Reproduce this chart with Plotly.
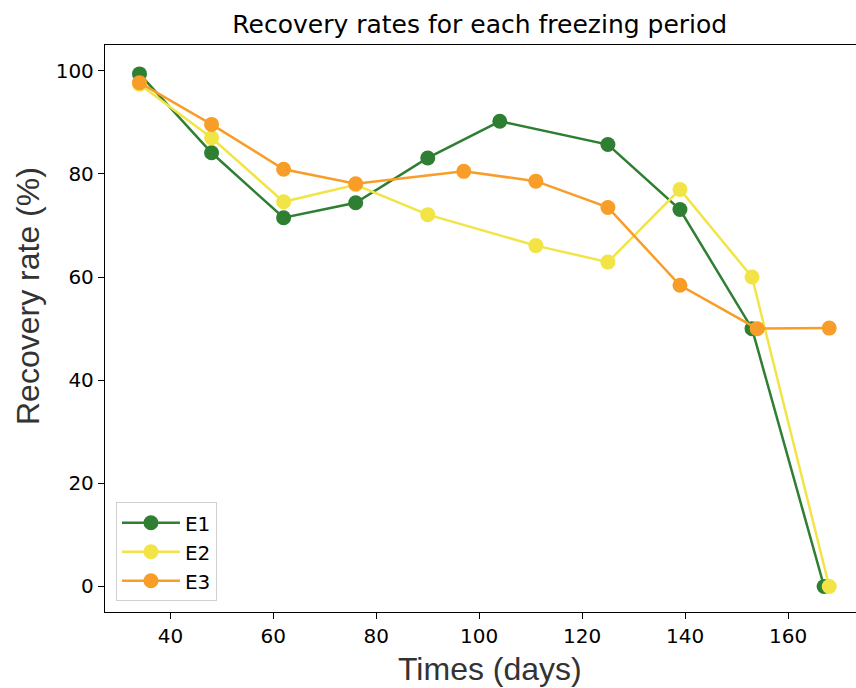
import plotly.graph_objects as go

e1_days = [34, 48, 62, 76, 90, 104, 125, 139, 153, 167]
e1_rate = [99.4, 84.1, 71.5, 74.4, 83.1, 90.2, 85.7, 73.1, 50.0, 0.0]

e2_days = [34, 48, 62, 76, 90, 111, 125, 139, 153, 168]
e2_rate = [97.4, 87.0, 74.6, 77.9, 72.1, 66.1, 62.9, 77.0, 60.0, 0.0]

e3_days = [34, 48, 62, 76, 97, 111, 125, 139, 154, 168]
e3_rate = [97.7, 89.6, 80.9, 78.1, 80.5, 78.6, 73.5, 58.4, 50.0, 50.1]

series = [
    ("E1", e1_days, e1_rate, "#2F7F33"),
    ("E2", e2_days, e2_rate, "#F2E447"),
    ("E3", e3_days, e3_rate, "#F89D28"),
]

x_ticks = [40, 60, 80, 100, 120, 140, 160]
y_ticks = [0, 20, 40, 60, 80, 100]

fig = go.Figure()
for name, xs, ys, color in series:
    fig.add_trace(go.Scatter(
        x=xs, y=ys, name=name, mode="lines+markers",
        line=dict(color=color, width=2.5),
        marker=dict(color=color, size=15),
    ))

tick_font = dict(family="DejaVu Sans", size=20, color="black")
label_font = dict(family="Liberation Sans, Arial, sans-serif", size=32, color="#333333")

fig.update_layout(
    width=856, height=688,
    margin=dict(l=105, r=0, t=45, b=76),
    paper_bgcolor="white", plot_bgcolor="white",
    title=dict(text="Recovery rates for each freezing period",
               font=dict(family="DejaVu Sans", size=25, color="black"),
               x=0.5605, xanchor="center", y=0.965, yanchor="middle"),
    xaxis=dict(range=[27.3, 173.2], tickvals=x_ticks, ticks="outside", ticklen=6,
               tickwidth=1.3, tickcolor="black", showline=True, linecolor="black",
               linewidth=1.3, mirror=True, showgrid=False, zeroline=False,
               tickfont=tick_font),
    yaxis=dict(range=[-4.95, 105.0], tickvals=y_ticks, ticks="outside", ticklen=6,
               tickwidth=1.3, tickcolor="black", showline=True, linecolor="black",
               linewidth=1.3, mirror=False, showgrid=False, zeroline=False,
               tickfont=tick_font),
    legend=dict(x=0.0146, y=0.019, xanchor="left", yanchor="bottom",
                bgcolor="white", bordercolor="#d0d0d0", borderwidth=1,
                font=dict(family="DejaVu Sans", size=20, color="black"),
                itemwidth=58, tracegroupgap=0),
    showlegend=True,
    annotations=[
        dict(text="Times (days)", font=label_font, showarrow=False,
             xref="paper", yref="paper", x=(490 - 105) / 751, y=-(669 - 612) / 567,
             xanchor="center", yanchor="middle"),
        dict(text="Recovery rate (%)", font=label_font, showarrow=False, textangle=-90,
             xref="paper", yref="paper", x=-(105 - 28) / 751, y=(612 - 296) / 567,
             xanchor="center", yanchor="middle"),
    ],
)

fig.write_html("out.html")
